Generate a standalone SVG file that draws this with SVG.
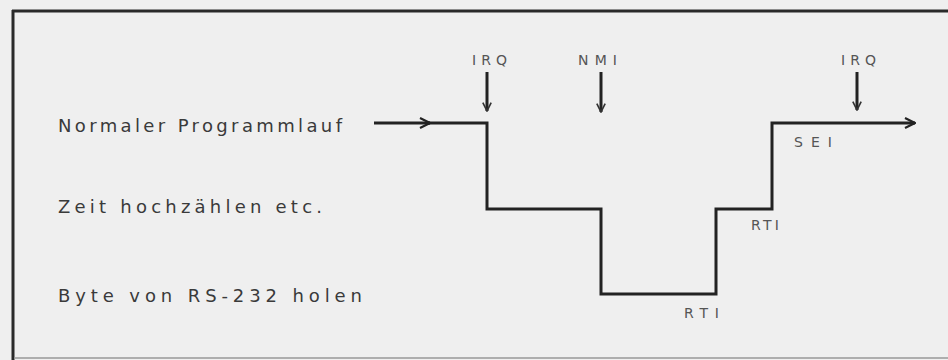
<svg xmlns="http://www.w3.org/2000/svg" width="948" height="360" viewBox="0 0 948 360">
<style>
.frame{stroke:#2a2a2a;stroke-width:3;fill:none}
.wire{stroke:#222;stroke-width:3;fill:none;stroke-linejoin:miter}
.main{font-family:"DejaVu Sans","Liberation Sans",sans-serif;font-size:18px;fill:#3a3a3a}
.lbl{font-family:"DejaVu Sans","Liberation Sans",sans-serif;font-size:14px;fill:#555}
</style>
<defs>
<marker id="vh" viewBox="0 0 12 12" refX="11" refY="6" markerWidth="12" markerHeight="12" markerUnits="userSpaceOnUse" orient="auto">
<path d="M1,1 L11,6 L1,11" fill="none" stroke="#222" stroke-width="2.2"/>
</marker>
<marker id="vs" viewBox="0 0 12 12" refX="11" refY="6" markerWidth="10" markerHeight="10" markerUnits="userSpaceOnUse" orient="auto">
<path d="M1,1 L11,6 L1,11" fill="none" stroke="#333" stroke-width="2"/>
</marker>
</defs>
<rect x="0" y="0" width="948" height="360" fill="#efefef"/>
<g id="frame">
<line class="frame" x1="12" y1="11" x2="948" y2="11"/>
<line class="frame" x1="13" y1="10" x2="13" y2="360"/>
<line x1="14" y1="358" x2="948" y2="358" stroke="#999" stroke-width="1.5"/>
</g>
<g id="labels-left">
<text id="t-normal" class="main" x="58" y="132" textLength="284" lengthAdjust="spacing">Normaler Programmlauf</text>
<text id="t-zeit" class="main" x="58" y="213" textLength="264" lengthAdjust="spacing">Zeit hochzählen etc.</text>
<text id="t-byte" class="main" x="58" y="302" textLength="304" lengthAdjust="spacing">Byte von RS-232 holen</text>
</g>
<g id="connectors">
<line class="wire" x1="374" y1="123" x2="430" y2="123" marker-end="url(#vh)"/>
<path class="wire" d="M428,123 H487 V209 H601 V294 H716 V209 H772 V123 H915" marker-end="url(#vh)"/>
<line class="wire" stroke-width="2.2" x1="487" y1="72" x2="487" y2="111" marker-end="url(#vs)"/>
<line class="wire" stroke-width="2.2" x1="601" y1="72" x2="601" y2="112" marker-end="url(#vs)"/>
<line class="wire" stroke-width="2.2" x1="857" y1="72" x2="857" y2="110" marker-end="url(#vs)"/>
</g>
<g id="irq1"><text class="lbl" x="472" y="65" textLength="35" lengthAdjust="spacing">IRQ</text></g>
<g id="nmi"><text class="lbl" x="578" y="65" textLength="39" lengthAdjust="spacing">NMI</text></g>
<g id="irq2"><text class="lbl" x="841" y="65" textLength="35" lengthAdjust="spacing">IRQ</text></g>
<g id="sei"><text class="lbl" x="794" y="147" textLength="38" lengthAdjust="spacing">SEI</text></g>
<g id="rti1"><text class="lbl" x="751" y="230" textLength="28" lengthAdjust="spacing">RTI</text></g>
<g id="rti2"><text class="lbl" x="684" y="318" textLength="35" lengthAdjust="spacing">RTI</text></g>
</svg>
